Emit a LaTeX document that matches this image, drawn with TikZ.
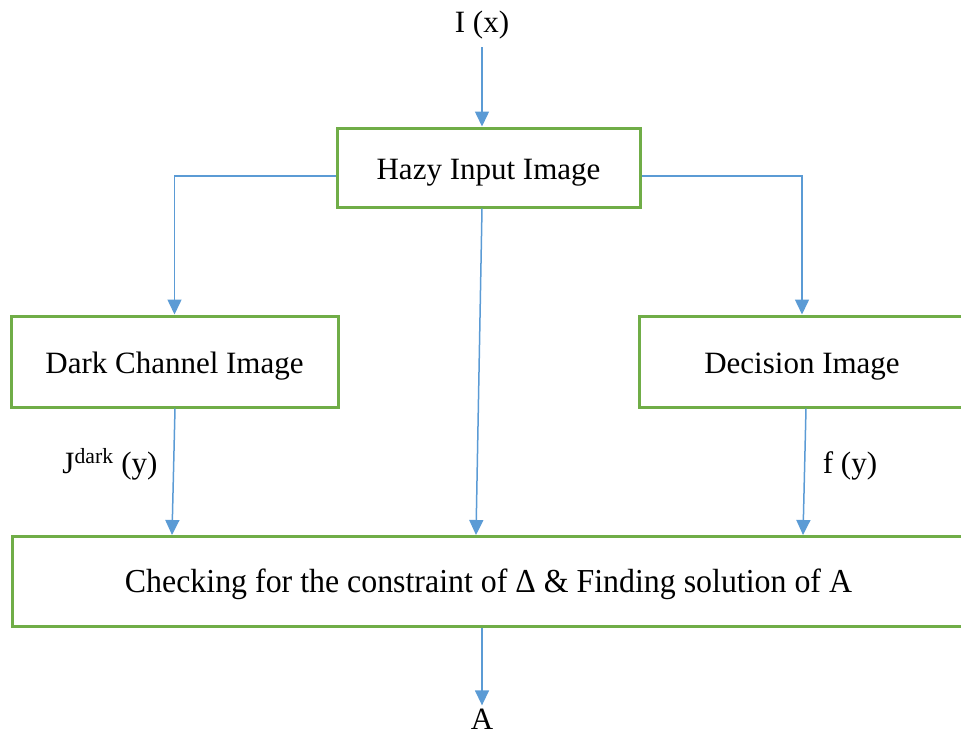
\documentclass[tikz,border=0pt]{standalone}
\usepackage{fontspec}
\usepackage{graphicx}
\setmainfont{Liberation Serif}
\usetikzlibrary{arrows.meta}
\definecolor{boxgreen}{HTML}{70AD47}
\definecolor{linkblue}{HTML}{5B9BD5}
\begin{document}
\begin{tikzpicture}[x=1pt,y=-1pt,
  box/.style={draw=boxgreen,line width=3pt,rectangle,inner sep=0pt,text height=23pt,text depth=0pt,font=\fontsize{31}{36}\selectfont},
  lbl/.style={font=\fontsize{31}{36}\selectfont,inner sep=0pt,anchor=base},
  link/.style={draw=linkblue,line width=1.5pt,-{Triangle[width=14pt,length=15pt]}}]
\useasboundingbox (0,0) rectangle (961,734);
\node[box,minimum width=303pt,minimum height=79pt] (hazy) at (488.5,167.5) {Hazy Input Image};
\node[box,minimum width=327pt,minimum height=91pt] (dark) at (174.5,361.5) {Dark Channel Image};
\node[box,minimum width=326pt,minimum height=91pt] (dec) at (802,361.5) {Decision Image};
\node[box,minimum width=953pt,minimum height=90pt,text height=21pt,font=\fontsize{33.5}{38}\selectfont] (bottom) at (488.5,581.5) {\resizebox{727pt}{\height}{Checking for the constraint of Δ \& Finding solution of A}};
\node[lbl] (ix) at (482,32) {I (x)};
\node[lbl] (A) at (482,729) {A};
\node[lbl] (jd) at (110,473) {J\textsuperscript{dark} (y)};
\node[lbl] (fy) at (850,473) {f (y)};
\draw[link] ([yshift=-15pt]ix.base) -- (ix.base |- hazy.north);
\draw[link] ([yshift=-8.5pt]hazy.west) -| (dark.north);
\draw[link] ([yshift=-8.5pt]hazy.east) -| (dec.north);
\draw[link] ([xshift=-6.5pt]hazy.south) -- ([xshift=-12.5pt]bottom.north);
\draw[link] ([xshift=0.5pt]dark.south) -- ([xshift=-316.5pt]bottom.north);
\draw[link] ([xshift=4pt]dec.south) -- ([xshift=314.5pt]bottom.north);
\draw[link,shorten >=3pt] ([xshift=-6.5pt]bottom.south) -- (A.north);
\end{tikzpicture}
\end{document}
